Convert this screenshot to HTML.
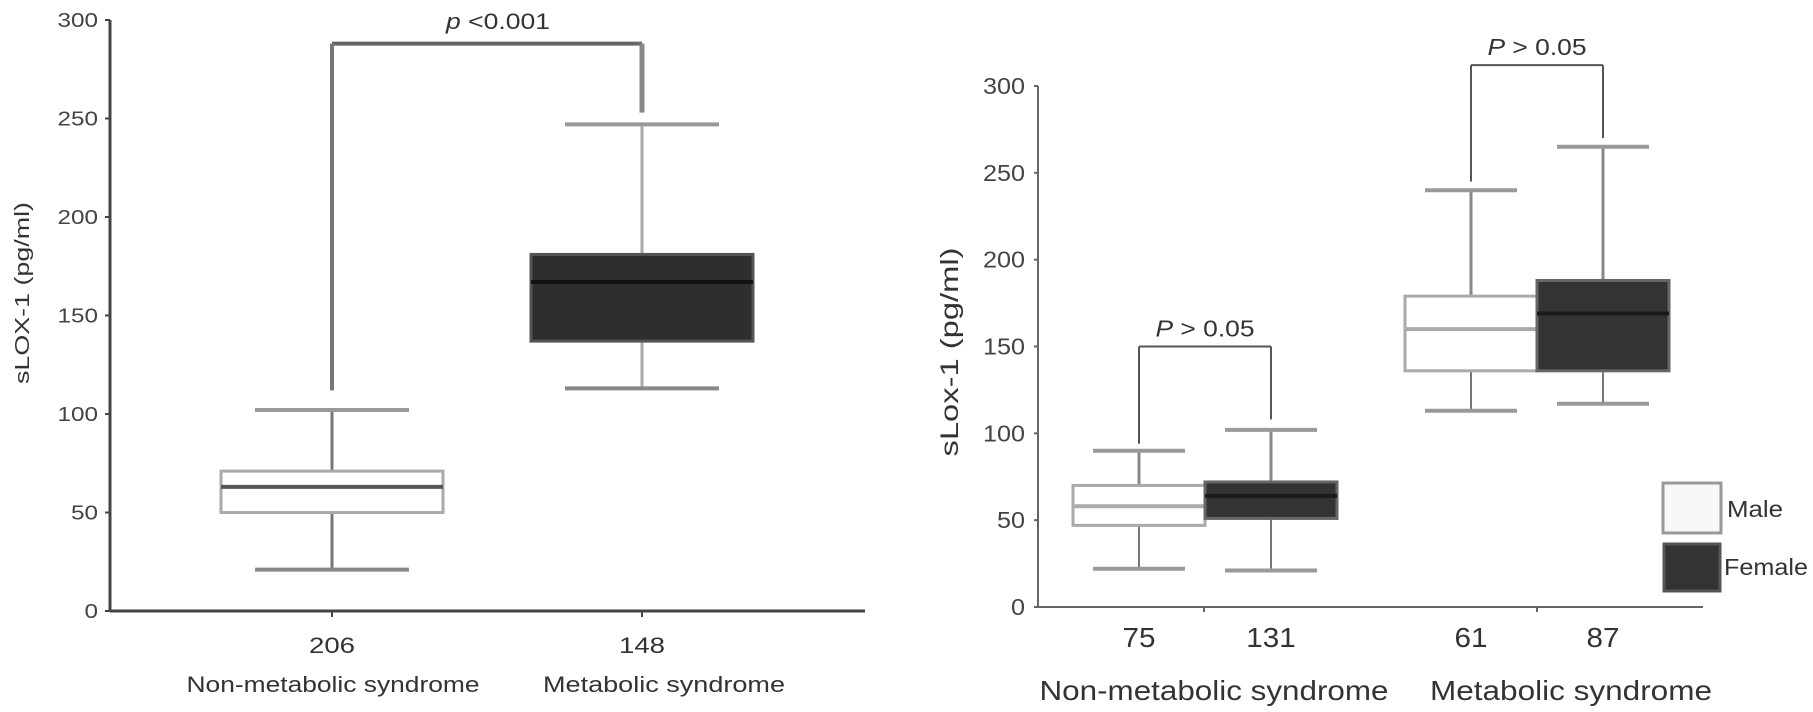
<!DOCTYPE html>
<html><head><meta charset="utf-8"><style>
html,body{margin:0;padding:0;background:#fff;}
svg{display:block;font-family:"Liberation Sans",sans-serif;}
</style></head><body>
<svg id="chart" width="1813" height="712" viewBox="0 0 1813 712"></svg>
<script>
// Left chart data
const leftCats = ["Non-metabolic syndrome","Metabolic syndrome"];
const leftN = ["206","148"];
const leftMin = [21,113];
const leftQ1 = [50,137];
const leftMed = [63,167];
const leftQ3 = [71,181];
const leftMax = [102,247];
const leftTicks = [0,50,100,150,200,250,300];
const leftBracket = [288,112,253];
// Right chart data
const rightGroups = ["Non-metabolic syndrome","Metabolic syndrome"];
const rightN = ["75","131","61","87"];
const rightSex = ["Male","Female","Male","Female"];
const rightMin = [22,21,113,117];
const rightQ1 = [47,51,136,136];
const rightMed = [58,64,160,169];
const rightQ3 = [70,72,179,188];
const rightMax = [90,102,240,265];
const rightTicks = [0,50,100,150,200,250,300];
const rightBrackets = [[150,94,108],[312,245,270]];

const NS="http://www.w3.org/2000/svg";
const svg=document.getElementById('chart');
function mk(tag,attrs,parent){const e=document.createElementNS(NS,tag);for(const k in attrs)e.setAttribute(k,attrs[k]);(parent||svg).appendChild(e);return e;}
function line(x1,y1,x2,y2,c,w,name,p){const e=mk('line',{x1,y1,x2,y2,stroke:c,'stroke-width':w},p);

return e;}
function text(x,y,s,size,anchor,name,p,extra,len){const a=Object.assign({x,y,'font-size':size,'text-anchor':anchor||'middle',fill:'#333'},extra||{});
if(len){a.textLength=len;a.lengthAdjust='spacingAndGlyphs';}
const e=mk('text',a,p);e.textContent=s;

return e;}

// ---------- LEFT ----------
const L={x0:110,y0:611,y300:20};
const ly=v=>L.y0-(v/300)*(L.y0-L.y300);
const lx=i=>[332,642][i];
const lhw=111, lcap=77;
const gL=mk('g',{});


line(L.x0,L.y300,L.x0,L.y0,'#444',3,'left-y-axis',gL);
line(L.x0,L.y0,865,L.y0,'#444',3,'left-x-axis',gL);
leftTicks.forEach(t=>{line(L.x0-5,ly(t),L.x0,ly(t),'#444',2,'left-y-tick',gL);
text(L.x0-12,ly(t)+7,String(t),20,'end','left-y-tick-label',gL,{fill:'#444'},String(t).length*13.5);});
text(0,0,'sLOX-1 (pg/ml)',20,'middle','left-y-axis-title',gL,{transform:'translate(29,293) rotate(-90)'},182);
const leftLabLen=[293,242], leftLabX=[333,664];
for(let i=0;i<2;i++){
  const cx=lx(i), dark=i===1;
  line(cx,L.y0,cx,L.y0+6,'#444',2,'left-x-tick',gL);
  const wc=dark?'#aaa':'#777';
  line(cx,ly(leftMin[i]),cx,ly(leftQ1[i]),wc,3,'whisker-lower',gL);
  line(cx,ly(leftQ3[i]),cx,ly(leftMax[i]),wc,3,'whisker-upper',gL);
  line(cx-lcap,ly(leftMin[i]),cx+lcap,ly(leftMin[i]),'#888',4,'whisker-cap-min',gL);
  line(cx-lcap,ly(leftMax[i]),cx+lcap,ly(leftMax[i]),'#999',4,'whisker-cap-max',gL);
  const b=mk('rect',{x:cx-lhw,y:ly(leftQ3[i]),width:2*lhw,height:ly(leftQ1[i])-ly(leftQ3[i]),fill:dark?'#2e2e2e':'#fff',stroke:dark?'#555':'#aaa','stroke-width':3},gL);
  
  
  line(cx-lhw,ly(leftMed[i]),cx+lhw,ly(leftMed[i]),dark?'#111':'#555',4,'median-line',gL);
  text(cx,653,leftN[i],22,'middle','left-n-label',gL,null,46);
  text(leftLabX[i],692,leftCats[i],22,'middle','left-category-label',gL,null,leftLabLen[i]);
}
line(lx(0),ly(leftBracket[0]),lx(1),ly(leftBracket[0]),'#666',4,'left-bracket',gL);
line(lx(0),ly(leftBracket[0]),lx(0),ly(leftBracket[1]),'#777',4,'left-bracket-leg',gL);
line(lx(1),ly(leftBracket[0]),lx(1),ly(leftBracket[2]),'#888',5,'left-bracket-leg',gL);
const pt=text(498,29,'',22,'middle','left-p-value',gL,null,104);
const pi=document.createElementNS(NS,'tspan');pi.setAttribute('font-style','italic');pi.textContent='p';pt.appendChild(pi);
pt.appendChild(document.createTextNode(' <0.001'));

// ---------- RIGHT ----------
const R={x0:1038,y0:607,y300:86};
const ry=v=>R.y0-(v/300)*(R.y0-R.y300);
const rx=i=>[1139,1271,1471,1603][i];
const rhw=66, rcap=46;
const gR=mk('g',{});


line(R.x0,R.y300,R.x0,R.y0,'#666',2,'right-y-axis',gR);
line(R.x0,R.y0,1703,R.y0,'#666',2,'right-x-axis',gR);
[1204,1537].forEach(x=>line(x,R.y0,x,R.y0+5,'#666',2,'right-x-tick',gR));
rightTicks.forEach(t=>{line(R.x0-4,ry(t),R.x0,ry(t),'#666',2,'right-y-tick',gR);
text(R.x0-13,ry(t)+8,String(t),23,'end','right-y-tick-label',gR,{fill:'#444'},String(t).length*14);});
text(0,0,'sLox-1 (pg/ml)',25,'middle','right-y-axis-title',gR,{transform:'translate(958,352) rotate(-90)'},209);
for(let i=0;i<4;i++){
  const cx=rx(i), dark=rightSex[i]==='Female';
  line(cx,ry(rightMin[i]),cx,ry(rightQ1[i]),'#777',2,'whisker-lower',gR);
  line(cx,ry(rightQ3[i]),cx,ry(rightMax[i]),'#888',3,'whisker-upper',gR);
  line(cx-rcap,ry(rightMin[i]),cx+rcap,ry(rightMin[i]),'#999',4,'whisker-cap-min',gR);
  line(cx-rcap,ry(rightMax[i]),cx+rcap,ry(rightMax[i]),'#999',4,'whisker-cap-max',gR);
  const b=mk('rect',{x:cx-rhw,y:ry(rightQ3[i]),width:2*rhw,height:ry(rightQ1[i])-ry(rightQ3[i]),fill:dark?'#333':'#fff',stroke:dark?'#666':'#aaa','stroke-width':3},gR);
  
  
  line(cx-rhw,ry(rightMed[i]),cx+rhw,ry(rightMed[i]),dark?'#1a1a1a':'#aaa',4,'median-line',gR);
  text(cx,647,rightN[i],28,'middle','right-n-label',gR,null,rightN[i].length*16.5);
}
text(1214,700,rightGroups[0],28,'middle','right-category-label',gR,null,349);
text(1571,700,rightGroups[1],28,'middle','right-category-label',gR,null,282);
rightBrackets.forEach((br,g)=>{
  const a=rx(2*g), c=rx(2*g+1);
  line(a,ry(br[0]),c,ry(br[0]),'#555',2,'right-bracket',gR);
  line(a,ry(br[0]),a,ry(br[1]),'#555',2,'right-bracket-leg',gR);
  line(c,ry(br[0]),c,ry(br[2]),'#555',2,'right-bracket-leg',gR);
  const t=text((a+c)/2,ry(br[0])-10,'',23,'middle','right-p-value',gR,null,99);
  const ti=document.createElementNS(NS,'tspan');ti.setAttribute('font-style','italic');ti.textContent='P';t.appendChild(ti);
  t.appendChild(document.createTextNode(' > 0.05'));
});
// legend
const lg=mk('g',{});


const lm=mk('rect',{x:1663,y:483,width:58,height:50,fill:'#f8f8f8',stroke:'#999','stroke-width':3},lg);


const lf=mk('rect',{x:1664,y:544,width:56,height:47,fill:'#333',stroke:'#555','stroke-width':3},lg);


text(1727,517,'Male',23,'start','legend-label-male',lg,null,56);
text(1724,575,'Female',23,'start','legend-label-female',lg,null,84);
</script>
</body></html>
